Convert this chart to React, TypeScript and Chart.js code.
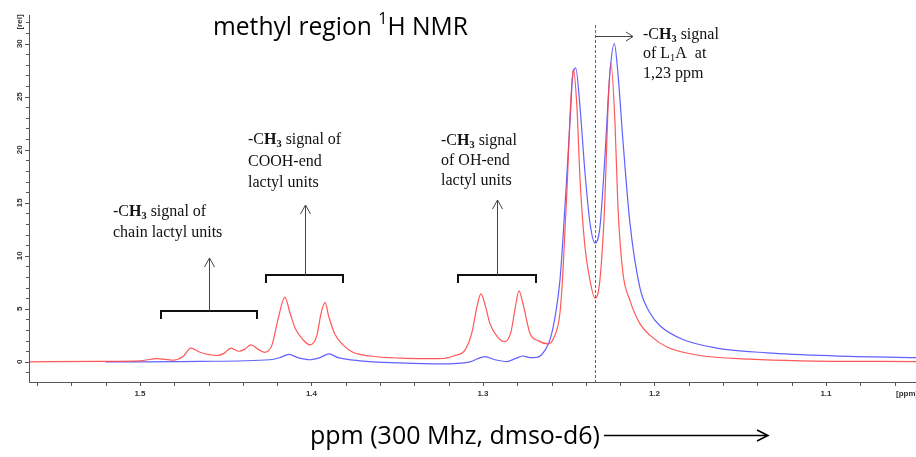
import React, { useEffect, useRef } from 'react';
import { Chart, registerables } from 'chart.js';
Chart.register(...registerables);

// Red spectrum (ppm, relative intensity)
const redPpm = [1.5647, 1.523, 1.5, 1.4901, 1.4808, 1.4749, 1.4703, 1.465, 1.4551, 1.451, 1.4469, 1.4423, 1.4388, 1.4353, 1.4312, 1.4271, 1.423, 1.4195, 1.4155, 1.4125, 1.4096, 1.405, 1.4009, 1.3968, 1.3945, 1.3921, 1.3898, 1.3863, 1.3816, 1.3758, 1.3659, 1.3484, 1.3251, 1.3163, 1.3105, 1.3064, 1.3035, 1.3012, 1.2988, 1.2959, 1.2918, 1.2872, 1.2837, 1.2813, 1.279, 1.2767, 1.2726, 1.2679, 1.2621, 1.2592, 1.2551, 1.2534, 1.251, 1.2493, 1.2473, 1.2452, 1.2434, 1.2405, 1.2376, 1.2347, 1.2318, 1.2289, 1.2271, 1.2254, 1.223, 1.2213, 1.2184, 1.2143, 1.2085, 1.2026, 1.1927, 1.1735, 1.1443, 1.1152, 1.0475];
const redIntensity = [0.0, 0.05, 0.1, 0.3, 0.15, 0.5, 1.3, 0.9, 0.6, 0.8, 1.3, 1.0, 1.2, 1.6, 1.2, 0.9, 1.6, 4.0, 6.1, 4.6, 3.2, 2.1, 1.6, 2.5, 4.5, 5.6, 4.2, 2.6, 1.6, 0.9, 0.55, 0.35, 0.3, 0.6, 1.1, 2.8, 5.2, 6.4, 5.4, 3.6, 2.4, 1.9, 2.8, 5.0, 6.7, 5.5, 2.7, 2.0, 1.7, 2.1, 4.6, 8.4, 16.2, 23.0, 27.6, 24.0, 17.2, 10.8, 7.7, 6.0, 7.7, 15.3, 24.0, 28.2, 22.5, 14.6, 8.4, 5.8, 3.6, 2.5, 1.4, 0.6, 0.25, 0.1, 0.03];

// Blue spectrum (ppm, relative intensity)
const bluePpm = [1.52, 1.5, 1.465, 1.4242, 1.4184, 1.4131, 1.4079, 1.4009, 1.395, 1.3898, 1.3845, 1.3717, 1.3484, 1.3251, 1.3076, 1.2988, 1.293, 1.286, 1.2813, 1.2767, 1.2726, 1.2679, 1.2638, 1.2609, 1.258, 1.2551, 1.2522, 1.2493, 1.2475, 1.2459, 1.2434, 1.2405, 1.2376, 1.2347, 1.2318, 1.2289, 1.226, 1.2234, 1.2213, 1.2184, 1.2143, 1.2085, 1.2026, 1.1968, 1.1834, 1.1636, 1.1344, 1.0959, 1.0475];
const blueIntensity = [0.0, 0.0, 0.05, 0.2, 0.4, 0.7, 0.4, 0.2, 0.4, 0.75, 0.4, 0.1, -0.1, -0.2, 0.0, 0.5, 0.2, 0.03, 0.3, 0.55, 0.4, 0.45, 1.1, 2.1, 4.2, 7.7, 14.6, 22.5, 27.2, 27.7, 24.0, 17.8, 13.1, 11.2, 12.7, 19.3, 27.2, 30.0, 27.2, 20.9, 13.1, 7.0, 4.6, 3.4, 2.1, 1.3, 0.85, 0.57, 0.4];

// Axes
const xRange = [1.0475, 1.5647];
const yRange = [-1.9, 32.7];
const xTickValues = [1.5, 1.4, 1.3, 1.2, 1.1];
const xTickLabels = ['1.5', '1.4', '1.3', '1.2', '1.1'];
const yTickValues = [0, 5, 10, 15, 20, 25, 30];
const yTickLabels = ['0', '5', '10', '15', '20', '25', '30'];
const xMinorStep = 0.02;
const yMinorStep = 1;
const markerPpm = 1.2344;

const titleText = [{ t: 'methyl region ' }, { t: '1', sup: true }, { t: 'H NMR' }];
const xTitle = 'ppm (300 Mhz, dmso-d6)';

type Seg = { t: string; bold?: boolean; sub?: boolean; sup?: boolean };

const ch3: Seg[] = [{ t: '-C' }, { t: 'H', bold: true }, { t: '3', bold: true, sub: true }];

const notes: { x: number; ys: number[]; lines: Seg[][] }[] = [
  { x: 113, ys: [212, 233], lines: [[...ch3, { t: ' signal of' }], [{ t: 'chain lactyl units' }]] },
  { x: 248, ys: [140, 162, 183], lines: [[...ch3, { t: ' signal of' }], [{ t: 'COOH-end' }], [{ t: 'lactyl units' }]] },
  { x: 441, ys: [141, 161, 181], lines: [[...ch3, { t: ' signal' }], [{ t: 'of OH-end' }], [{ t: 'lactyl units' }]] },
  { x: 643, ys: [35, 54, 74], lines: [[...ch3, { t: ' signal' }], [{ t: 'of L' }, { t: '1', sub: true }, { t: 'A  at' }], [{ t: '1,23 ppm' }]] },
];

const brackets = [
  { x1: 161, x2: 257, y: 311, tipY: 258 },
  { x1: 266, x2: 343, y: 275, tipY: 205 },
  { x1: 458, x2: 536, y: 275, tipY: 200 },
];

function segFont(s: Seg, size: number, family: string) {
  const fs = s.sub || s.sup ? size * 0.65 : size;
  return `${s.bold ? 'bold ' : ''}${fs}px ${family}`;
}

function richWidth(ctx: CanvasRenderingContext2D, segs: Seg[], size: number, family: string) {
  let w = 0;
  for (const s of segs) {
    ctx.font = segFont(s, size, family);
    w += ctx.measureText(s.t).width;
  }
  return w;
}

function drawRich(ctx: CanvasRenderingContext2D, x: number, y: number, segs: Seg[], size: number, family: string) {
  let cx = x;
  for (const s of segs) {
    ctx.font = segFont(s, size, family);
    const dy = s.sub ? size * 0.28 : s.sup ? -size * 0.35 : 0;
    ctx.fillText(s.t, cx, y + dy);
    cx += ctx.measureText(s.t).width;
  }
}

const decorPlugin = {
  id: 'nmrDecor',
  afterDatasetsDraw(chart: any) {
    const { ctx, chartArea: a, scales } = chart;
    const xs = scales.x;
    const ys = scales.y;
    ctx.save();

    // dashed marker line
    const mx = Math.round(xs.getPixelForValue(markerPpm)) + 0.5;
    ctx.strokeStyle = '#666';
    ctx.lineWidth = 1;
    ctx.setLineDash([3, 2]);
    ctx.beginPath();
    ctx.moveTo(mx, 25);
    ctx.lineTo(mx, a.bottom);
    ctx.stroke();
    ctx.setLineDash([]);

    // axes lines
    ctx.strokeStyle = '#555';
    ctx.beginPath();
    ctx.moveTo(a.left + 0.5, a.top);
    ctx.lineTo(a.left + 0.5, a.bottom + 0.5);
    ctx.lineTo(a.right, a.bottom + 0.5);
    // y ticks
    for (let v = Math.ceil(ys.min / yMinorStep) * yMinorStep; v <= ys.max; v += yMinorStep) {
      const py = Math.round(ys.getPixelForValue(v)) + 0.5;
      const len = yTickValues.includes(Math.round(v)) ? 4 : 3;
      ctx.moveTo(a.left - len, py);
      ctx.lineTo(a.left, py);
    }
    // x ticks
    for (let k = Math.ceil(xs.min / xMinorStep - 1e-6); k * xMinorStep <= xs.max + 1e-9; k++) {
      const px = Math.round(xs.getPixelForValue(k * xMinorStep)) + 0.5;
      ctx.moveTo(px, a.bottom);
      ctx.lineTo(px, a.bottom + 4);
    }
    ctx.stroke();

    // tick labels
    ctx.fillStyle = '#333';
    ctx.font = 'bold 8px "Liberation Sans", Arial, sans-serif';
    ctx.textAlign = 'center';
    ctx.textBaseline = 'middle';
    xTickValues.forEach((v, i) => {
      ctx.fillText(xTickLabels[i], xs.getPixelForValue(v), a.bottom + 12);
    });
    ctx.textAlign = 'left';
    ctx.fillText('[ppm]', 896, a.bottom + 12);
    ctx.textAlign = 'center';
    yTickValues.forEach((v, i) => {
      ctx.save();
      ctx.translate(20, ys.getPixelForValue(v));
      ctx.rotate(-Math.PI / 2);
      ctx.fillText(yTickLabels[i], 0, 0);
      ctx.restore();
    });
    ctx.save();
    ctx.translate(20, 22);
    ctx.rotate(-Math.PI / 2);
    ctx.fillText('[rel]', 0, 0);
    ctx.restore();

    // brackets with up arrows
    brackets.forEach((b) => {
      ctx.strokeStyle = '#111';
      ctx.lineWidth = 2;
      ctx.beginPath();
      ctx.moveTo(b.x1, b.y + 8);
      ctx.lineTo(b.x1, b.y);
      ctx.lineTo(b.x2, b.y);
      ctx.lineTo(b.x2, b.y + 8);
      ctx.stroke();
      const cx = Math.round((b.x1 + b.x2) / 2) + 0.5;
      ctx.strokeStyle = '#444';
      ctx.lineWidth = 1;
      ctx.beginPath();
      ctx.moveTo(cx, b.y);
      ctx.lineTo(cx, b.tipY);
      ctx.moveTo(cx - 5, b.tipY + 9);
      ctx.lineTo(cx, b.tipY);
      ctx.lineTo(cx + 5, b.tipY + 9);
      ctx.stroke();
    });

    // right arrow near marker
    ctx.strokeStyle = '#444';
    ctx.lineWidth = 1;
    ctx.beginPath();
    ctx.moveTo(mx, 36.5);
    ctx.lineTo(633, 36.5);
    ctx.moveTo(626, 32);
    ctx.lineTo(633, 36.5);
    ctx.lineTo(626, 41);
    ctx.stroke();

    // notes
    ctx.fillStyle = '#111';
    ctx.textAlign = 'left';
    ctx.textBaseline = 'middle';
    const serif = '"Liberation Serif", "Times New Roman", serif';
    notes.forEach((n) => {
      n.lines.forEach((l, i) => drawRich(ctx, n.x, n.ys[i], l, 16, serif));
    });

    // title
    const sans = '"Open Sans", sans-serif';
    ctx.fillStyle = '#000';
    const tSize = (255 / richWidth(ctx, titleText, 100, sans)) * 100;
    drawRich(ctx, 213, 28, titleText, tSize, sans);

    // x title and arrow
    const xtSeg = [{ t: xTitle }];
    const xSize = (290 / richWidth(ctx, xtSeg, 100, sans)) * 100;
    drawRich(ctx, 310, 437, xtSeg, xSize, sans);
    ctx.strokeStyle = '#000';
    ctx.lineWidth = 1.5;
    ctx.beginPath();
    ctx.moveTo(604, 435.5);
    ctx.lineTo(768, 435.5);
    ctx.moveTo(757, 430);
    ctx.lineTo(768, 435.5);
    ctx.lineTo(757, 441);
    ctx.stroke();

    ctx.restore();
  },
};

export default function App() {
  const ref = useRef<HTMLCanvasElement | null>(null);
  useEffect(() => {
    if (!ref.current) return;
    const chart = new Chart(ref.current, {
      type: 'line',
      data: {
        datasets: [
          {
            data: redPpm.map((x, i) => ({ x, y: redIntensity[i] })),
            borderColor: 'rgba(255,70,70,0.9)',
            borderWidth: 1.2,
            pointRadius: 0,
            cubicInterpolationMode: 'monotone',
            fill: false,
          },
          {
            data: bluePpm.map((x, i) => ({ x, y: blueIntensity[i] })),
            borderColor: 'rgba(80,80,255,0.9)',
            borderWidth: 1.2,
            pointRadius: 0,
            cubicInterpolationMode: 'monotone',
            fill: false,
          },
        ],
      },
      options: {
        responsive: false,
        animation: false,
        events: [],
        layout: { padding: { left: 29, right: 0, top: 15, bottom: 75 } },
        scales: {
          x: { type: 'linear', reverse: true, min: xRange[0], max: xRange[1], display: false },
          y: { type: 'linear', min: yRange[0], max: yRange[1], display: false },
        },
        plugins: { legend: { display: false }, tooltip: { enabled: false } },
      },
      plugins: [decorPlugin],
    } as any);
    return () => chart.destroy();
  }, []);
  return (
    <div style={{ position: 'absolute', left: 0, top: 0, width: 916, height: 457, background: '#fff' }}>
      <canvas ref={ref} width={916} height={457} />
    </div>
  );
}
